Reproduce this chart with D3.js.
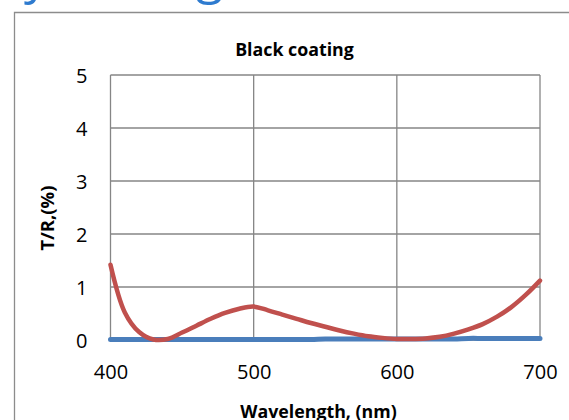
<!DOCTYPE html>
<html><head><meta charset="utf-8">
<script src="https://cdn.jsdelivr.net/npm/d3@7"></script>
<style>body{margin:0;background:#fff}svg{display:block}</style>
</head><body>
<svg id="c" width="569" height="420"></svg>
<script>
const wavelengths = [400,410,420,430,440,450,460,470,480,490,500,510,520,530,540,550,560,570,580,590,600,610,620,630,640,650,660,670,680,690,700];
const reflectance = [1.42,0.52,0.15,0.01,0.02,0.14,0.27,0.40,0.51,0.59,0.63,0.56,0.48,0.40,0.32,0.25,0.18,0.12,0.07,0.04,0.02,0.02,0.03,0.06,0.12,0.20,0.30,0.44,0.62,0.85,1.12];
const transmittance = [0.01,0.01,0.01,0.01,0.01,0.01,0.01,0.01,0.01,0.01,0.01,0.01,0.01,0.01,0.01,0.02,0.02,0.02,0.02,0.02,0.02,0.02,0.02,0.02,0.02,0.03,0.03,0.03,0.03,0.03,0.03];
const xTicks = [400,500,600,700];
const yTicks = [0,1,2,3,4,5];
const title = "Black coating";
const xTitle = "Wavelength, (nm)";
const yTitle = "T/R,(%)";

const svg = d3.select("#c");
const font = "'Open Sans', sans-serif";
const L = 110.5, R = 540, T = 75, B = 340;
const x = d3.scaleLinear().domain([400,700]).range([L,R]);
const y = d3.scaleLinear().domain([0,5]).range([B,T]);

// partially visible heading (cut off at the top edge)
svg.append("text").attr("x",24).attr("y",-7).attr("font-family",font).attr("font-size",50).attr("fill","#2e7bcf").text("y");
svg.append("text").attr("x",196).attr("y",-7).attr("font-family",font).attr("font-size",50).attr("fill","#2e7bcf").text("g");

// outer chart frame
svg.append("path").attr("d","M14.5,420 V12.5 H569").attr("fill","none").attr("stroke","#8c8c8c").attr("stroke-width",1.3);

// grid
const g = svg.append("g");
g.selectAll(".hy").data(yTicks).join("line")
  .attr("x1",L).attr("x2",R).attr("y1",d=>y(d)).attr("y2",d=>y(d))
  .attr("stroke","#868686").attr("stroke-width",1.3);
g.selectAll(".vx").data(xTicks).join("line")
  .attr("x1",d=>x(d)).attr("x2",d=>x(d)).attr("y1",T).attr("y2",B)
  .attr("stroke","#868686").attr("stroke-width",1.3);

// axes labels
const yAxis = d3.axisLeft(y).tickValues(yTicks).tickSize(0).tickPadding(0).tickFormat(d3.format("d"));
const ya = svg.append("g").attr("transform",`translate(${L-23},0)`).call(yAxis);
ya.select(".domain").remove();
ya.selectAll("text").attr("font-family",font).attr("font-size",20).attr("fill","#000").attr("dy","0.35em");

const xAxis = d3.axisBottom(x).tickValues(xTicks).tickSize(0).tickPadding(0).tickFormat(d3.format("d"));
const xa = svg.append("g").attr("transform",`translate(0,${B+24})`).call(xAxis);
xa.select(".domain").remove();
xa.selectAll("text").attr("font-family",font).attr("font-size",20).attr("fill","#000").attr("dy","0.75em");

// series
const line = d3.line().x((d,i)=>x(wavelengths[i])).y(d=>y(d)).curve(d3.curveCatmullRom.alpha(0.5));
svg.append("path").attr("d",line(transmittance)).attr("fill","none").attr("stroke","#4a7ebb").attr("stroke-width",5).attr("stroke-linecap","round");
svg.append("path").attr("d",line(reflectance)).attr("fill","none").attr("stroke","#c0504d").attr("stroke-width",4.5).attr("stroke-linecap","round");

// titles
svg.append("text").attr("x",294.5).attr("y",56).attr("text-anchor","middle").attr("font-family",font).attr("font-weight","bold").attr("font-size",17.8).text(title);
svg.append("text").attr("x",318.5).attr("y",418).attr("text-anchor","middle").attr("font-family",font).attr("font-weight","bold").attr("font-size",17.8).text(xTitle);
svg.append("text").attr("transform","translate(54,218) rotate(-90)").attr("text-anchor","middle").attr("font-family",font).attr("font-weight","bold").attr("font-size",18.5).text(yTitle);
</script>
</body></html>
